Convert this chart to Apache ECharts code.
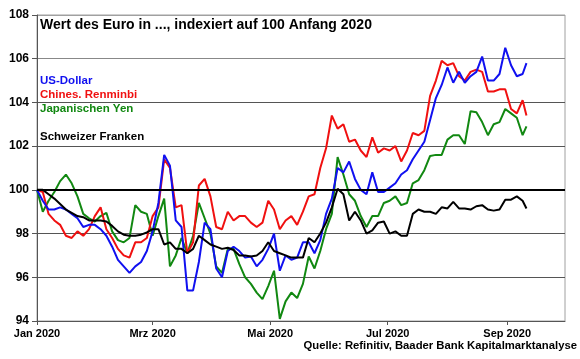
<!DOCTYPE html>
<html>
<head>
<meta charset="utf-8">
<script src="https://cdn.jsdelivr.net/npm/echarts@6/dist/echarts.min.js"></script>
<style>
  html, body { margin: 0; padding: 0; background: #fff; }
  #chart { width: 580px; height: 359px; }
</style>
</head>
<body>
<div id="chart"></div>
<script>
// Days since 1 Jan 2020
var days = [0,3,6,9,12,15,18,21,24,27,
  30,33,36,39,42,45,48,51,54,57,
  60,63,66,69,72,75,78,81,84,87,
  90,93,96,99,102,105,108,111,114,117,
  120,123,126,129,132,135,138,141,144,147,
  150,153,156,159,162,165,168,171,174,177,
  180,183,186,189,192,195,198,201,204,207,
  210,213,216,219,222,225,228,231,234,237,
  240,243,246,249,252,254];

var usDollar = [100.0, 99.5, 99.1, 99.1, 99.2, 99.1, 98.9, 98.7, 98.3, 98.4,
  98.4, 98.2, 97.9, 97.4, 96.8, 96.5, 96.2, 96.5, 96.7, 97.2,
  98.1, 99.4, 101.6, 101.1, 98.6, 98.3, 95.4, 95.4, 96.7, 98.5,
  98.2, 96.4, 96.0, 97.2, 97.4, 97.2, 96.9, 96.95, 96.5, 96.8,
  97.3, 98.0, 96.3, 97.0, 96.8, 96.9, 97.6, 97.6, 97.1, 97.7,
  98.9, 99.6, 101.0, 100.8, 101.3, 100.5, 100.0, 99.8, 100.8, 99.9,
  99.9, 100.1, 100.3, 100.7, 100.9, 101.4, 101.8, 102.2, 103.2, 104.2,
  104.8, 105.6, 104.9, 105.4, 104.9, 105.2, 105.4, 106.1, 105.0, 105.0,
  105.3, 106.5, 105.7, 105.2, 105.3, 105.8];

var renminbi = [100.0, 99.9, 98.9, 98.6, 98.4, 97.9, 97.8, 98.1, 97.9, 98.2,
  98.8, 99.2, 98.2, 97.8, 97.3, 97.0, 96.9, 97.6, 97.6, 97.8,
  98.8, 99.2, 101.4, 101.0, 99.2, 99.3, 97.1, 97.6, 100.2, 100.5,
  99.7, 98.3, 98.2, 99.0, 98.6, 98.8, 98.8, 98.5, 98.3, 98.5,
  99.5, 99.1, 98.2, 98.6, 98.8, 98.4, 99.0, 99.7, 99.8, 101.0,
  101.9, 103.4, 102.8, 103.0, 102.2, 102.3, 101.8, 101.5, 102.4, 101.7,
  101.9, 101.8, 102.0, 101.3, 101.8, 102.6, 102.5, 102.7, 104.3, 105.0,
  105.9, 105.7, 105.8, 105.2, 105.0, 105.4, 105.5, 105.4, 104.5, 104.5,
  104.6, 104.6, 103.7, 103.5, 104.1, 103.4];

var yen = [100.0, 99.0, 99.5, 99.9, 100.4, 100.7, 100.3, 99.7, 98.9, 98.7,
  98.55, 98.8, 98.95, 98.1, 97.7, 97.6, 97.8, 99.3, 99.0, 98.9,
  97.9, 98.8, 99.6, 96.5, 97.0, 97.8, 97.1, 97.9, 99.4, 98.7,
  98.0, 96.5, 96.2, 97.3, 97.3, 96.6, 96.0, 95.7, 95.3, 95.0,
  95.6, 96.3, 94.1, 94.9, 95.3, 95.05, 95.7, 96.95, 96.4, 97.2,
  98.2, 98.9, 101.5, 100.7, 99.8, 99.5, 98.8, 98.3, 98.8, 98.8,
  99.4, 99.5, 99.7, 99.3, 99.4, 100.3, 100.45, 100.9, 101.55, 101.6,
  101.6, 102.3, 102.5, 102.5, 102.1, 103.6, 103.55, 103.1, 102.5, 103.0,
  103.1, 103.7, 103.5, 103.3, 102.5, 102.9];

var franken = [100.0, 100.0, 99.8, 99.6, 99.35, 99.1, 98.95, 98.8, 98.75, 98.6,
  98.6, 98.6, 98.55, 98.35, 98.1, 97.95, 97.9, 97.9, 97.95, 98.05,
  98.2, 98.2, 97.5, 97.6, 97.3, 97.3, 97.1, 97.3, 97.9, 97.7,
  97.5, 97.4, 97.3, 97.35, 97.25, 97.0, 97.0, 96.95, 97.0, 97.2,
  97.6, 97.2, 97.1, 97.0, 96.9, 96.9, 96.9, 97.8, 97.6, 98.0,
  98.5, 99.2, 100.05, 99.8, 98.6, 99.0, 98.6, 98.0, 98.15, 98.5,
  98.55, 98.0, 98.1, 97.9, 97.9, 98.9, 99.1, 99.0, 99.0, 98.9,
  99.2, 99.15, 99.45, 99.15, 99.15, 99.1, 99.25, 99.3, 99.1, 99.05,
  99.1, 99.55, 99.55, 99.7, 99.5, 99.15];

var seriesNames = ['US-Dollar', 'Chines. Renminbi', 'Japanischen Yen', 'Schweizer Franken'];
var tickDays = [0, 60, 121, 182, 244];
var tickLabels = ['Jan 2020', 'Mrz 2020', 'Mai 2020', 'Jul 2020', 'Sep 2020'];
var titleText = 'Wert des Euro in ..., indexiert auf 100 Anfang 2020';
var sourceText = 'Quelle: Refinitiv, Baader Bank Kapitalmarktanalyse';

var colors = { usd: '#1010f0', cny: '#f01010', jpy: '#118811', chf: '#000000' };
var FONT = '"Liberation Sans", Arial, sans-serif';

function pairs(vals) { return days.map(function (d, i) { return [d, vals[i]]; }); }

var chart = echarts.init(document.getElementById('chart'), null, { renderer: 'canvas' });
var option = {
  animation: false,
  backgroundColor: '#ffffff',
  grid: { left: 37, right: 15, top: 15, bottom: 38, show: true, borderColor: '#a0a0a0', borderWidth: 1, backgroundColor: 'transparent' },
  xAxis: {
    type: 'value', min: 0, max: 274,
    axisLine: { show: true, lineStyle: { color: '#555', width: 1 } },
    axisTick: { show: true, customValues: tickDays, length: 4, inside: false, lineStyle: { color: '#555' } },
    axisLabel: {
      customValues: tickDays, margin: 7,
      color: '#000', fontFamily: FONT, fontWeight: 'bold', fontSize: 11,
      formatter: function (v) { var i = tickDays.indexOf(Math.round(v)); return i >= 0 ? tickLabels[i] : ''; }
    },
    splitLine: { show: false }
  },
  yAxis: {
    type: 'value', min: 94, max: 108, interval: 2,
    axisLine: { show: true, lineStyle: { color: '#555', width: 1 } },
    axisTick: { show: true, length: 5, lineStyle: { color: '#555' } },
    axisLabel: { margin: 8, color: '#000', fontFamily: FONT, fontWeight: 'bold', fontSize: 12 },
    splitLine: { show: true, lineStyle: { color: ['#555', '#555', '#555', '#555', '#555', '#555', '#888', '#a0a0a0'], width: 1 } }
  },
  series: [
    { type: 'line', name: 'ref', data: [], silent: true,
      markLine: { silent: true, symbol: 'none', label: { show: false },
        lineStyle: { color: '#000', width: 2, type: 'solid' }, data: [{ yAxis: 100 }] } },
    { type: 'line', name: seriesNames[2], data: pairs(yen), showSymbol: false, lineStyle: { color: colors.jpy, width: 2 }, itemStyle: { color: colors.jpy } },
    { type: 'line', name: seriesNames[1], data: pairs(renminbi), showSymbol: false, lineStyle: { color: colors.cny, width: 2 }, itemStyle: { color: colors.cny } },
    { type: 'line', name: seriesNames[0], data: pairs(usDollar), showSymbol: false, lineStyle: { color: colors.usd, width: 2 }, itemStyle: { color: colors.usd } },
    { type: 'line', name: seriesNames[3], data: pairs(franken), showSymbol: false, lineStyle: { color: colors.chf, width: 2 }, itemStyle: { color: colors.chf } }
  ],
  graphic: [
    { type: 'text', left: 40, top: 18, style: { text: titleText, fill: '#000', font: 'bold 14px ' + FONT } },
    { type: 'text', left: 40, top: 75, style: { text: seriesNames[0], fill: colors.usd, font: 'bold 11.5px ' + FONT } },
    { type: 'text', left: 40, top: 89, style: { text: seriesNames[1], fill: colors.cny, font: 'bold 11.5px ' + FONT } },
    { type: 'text', left: 40, top: 103, style: { text: seriesNames[2], fill: colors.jpy, font: 'bold 11.5px ' + FONT } },
    { type: 'text', left: 40, top: 131, style: { text: seriesNames[3], fill: colors.chf, font: 'bold 11.5px ' + FONT } },
    { type: 'text', right: 3, top: 340, style: { text: sourceText, fill: '#000', font: 'bold 11.3px ' + FONT } }
  ]
};
chart.setOption(option);
</script>
</body>
</html>
